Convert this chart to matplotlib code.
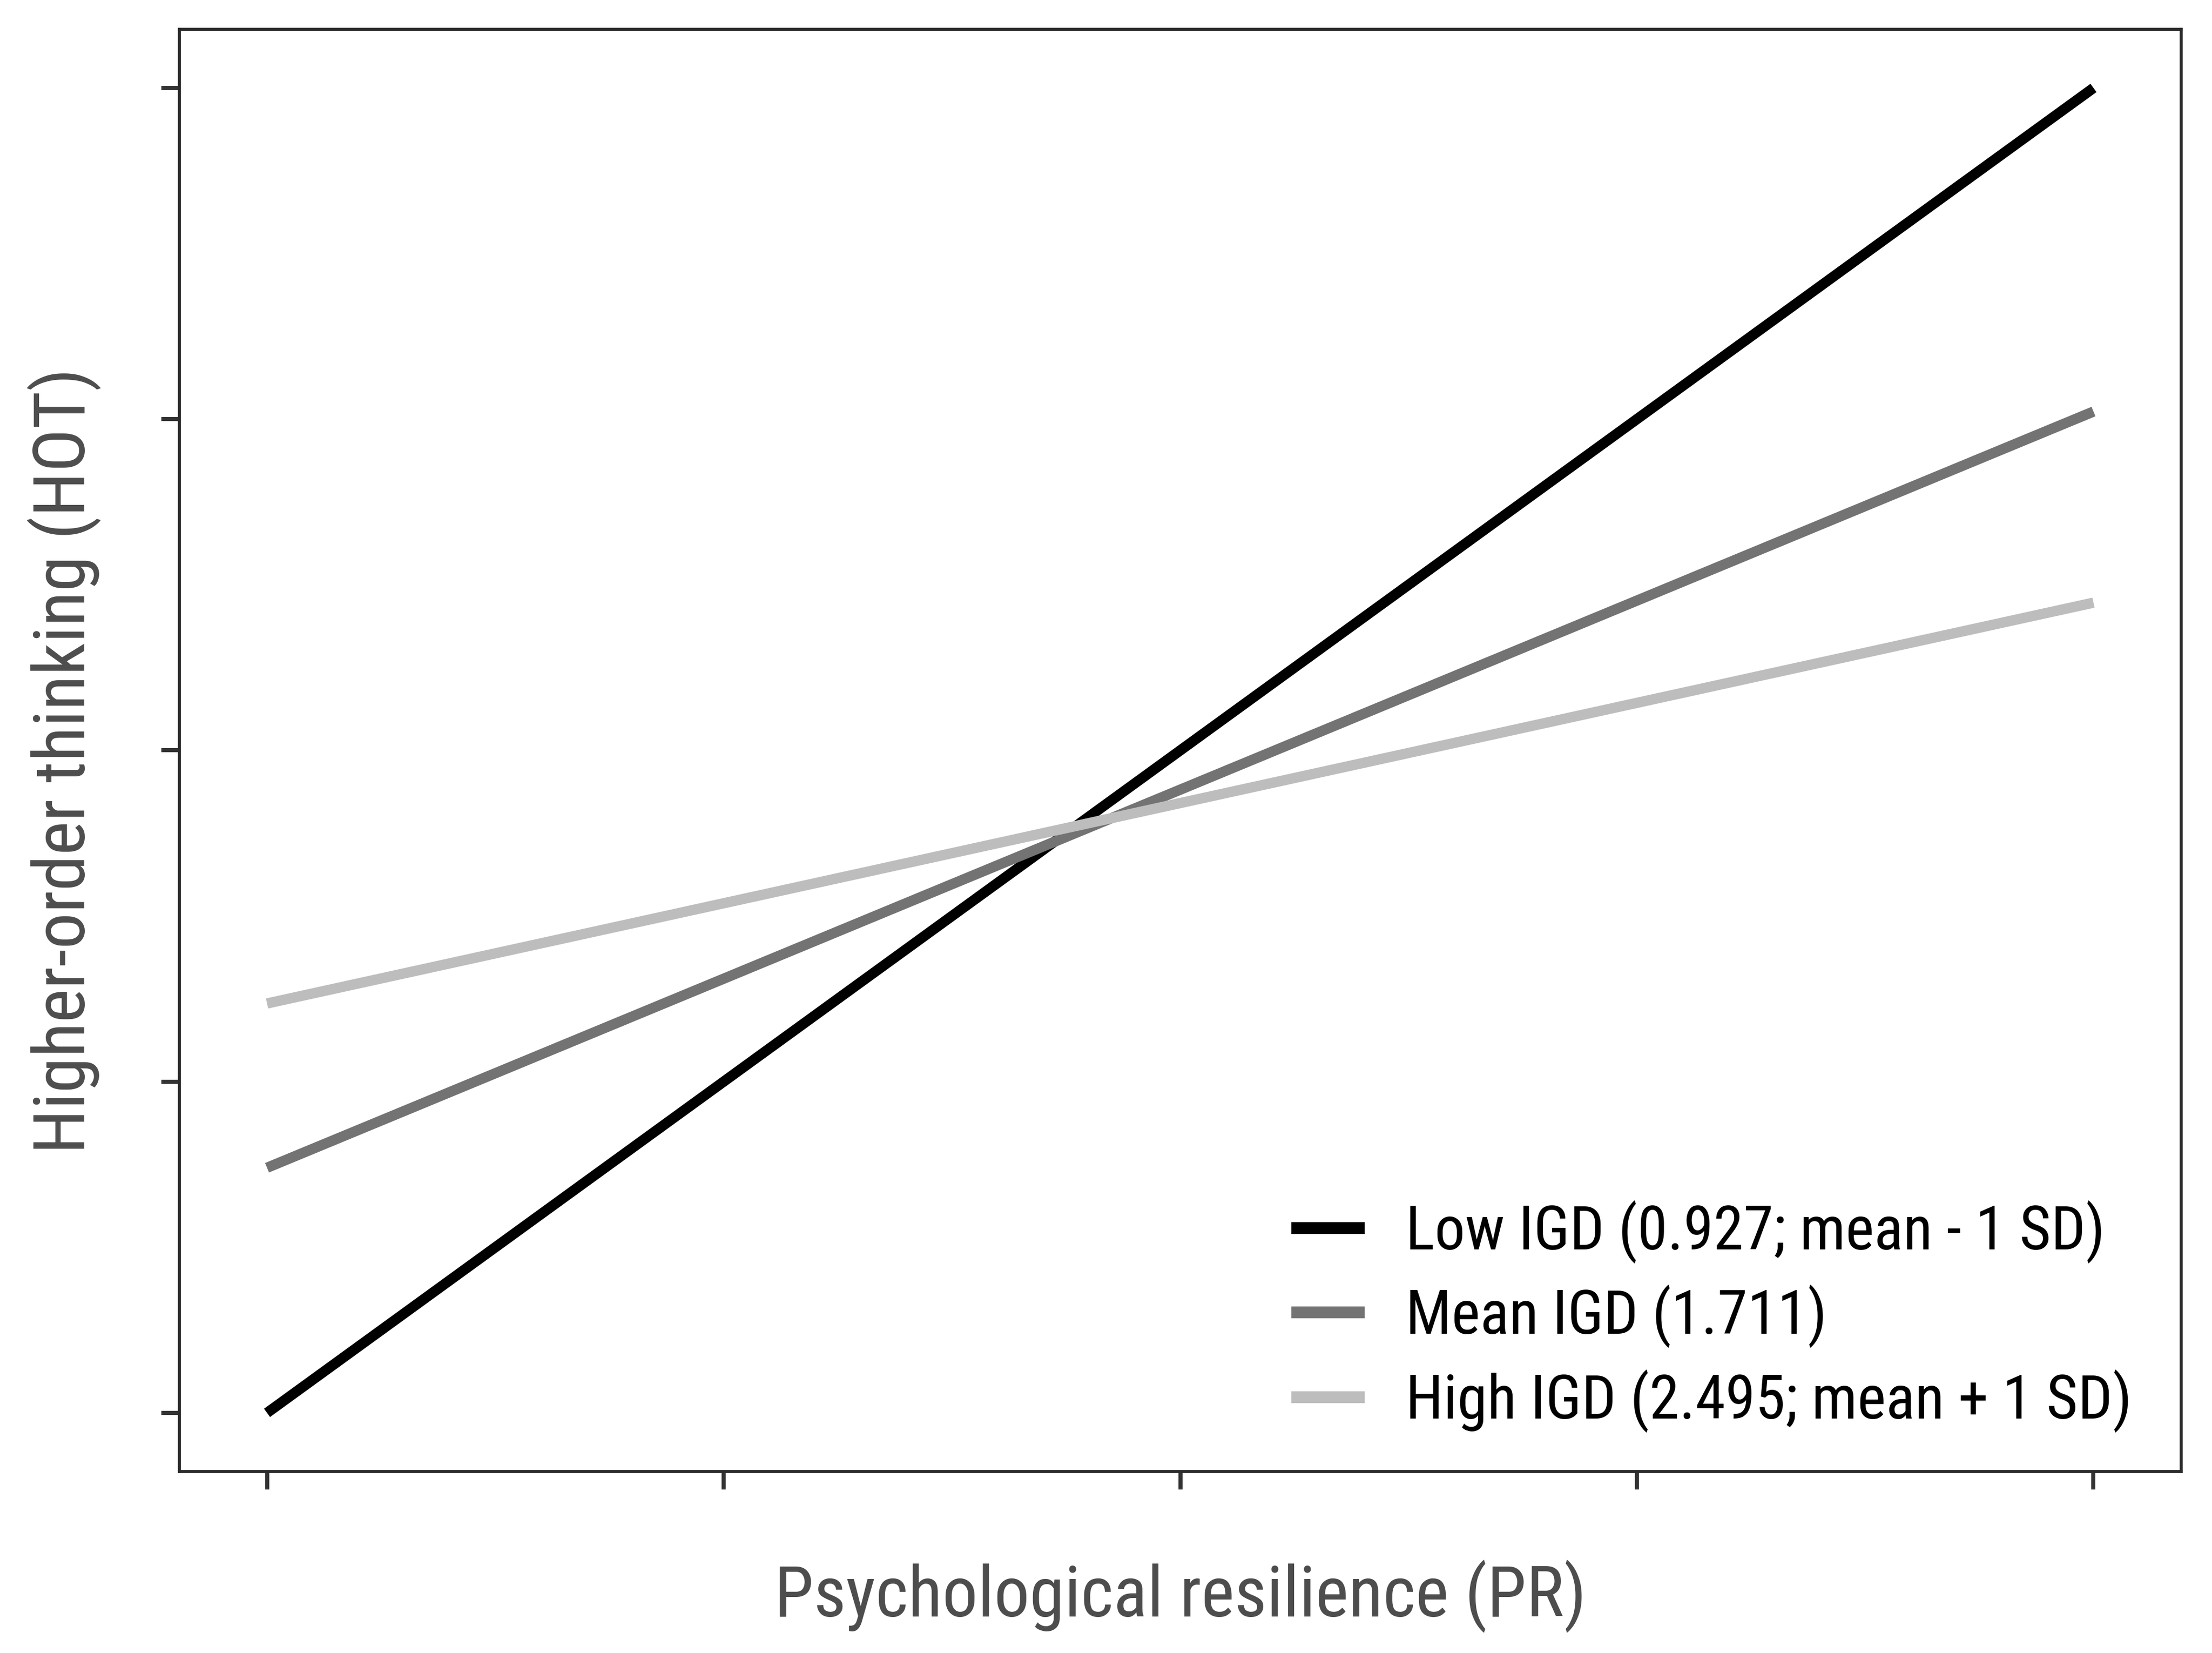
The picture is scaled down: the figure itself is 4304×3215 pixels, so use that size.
import os
import numpy as np
import matplotlib.pyplot as plt
from matplotlib import font_manager
from matplotlib.font_manager import FontProperties

# simple slopes: HOT predicted from PR at three IGD levels
pr = [-1, 1]
low_igd = [1.0, 5.0]
mean_igd = [1.74, 4.023]
high_igd = [2.236, 3.446]

labels = ["Low IGD (0.927; mean - 1 SD)",
          "Mean IGD (1.711)",
          "High IGD (2.495; mean + 1 SD)"]
colors = ["#000000", "#737373", "#bdbdbd"]

xticks = [-1, -0.5, 0, 0.5, 1]
yticks = [1, 2, 3, 4, 5]


def narrow_font():
    # the reference uses a narrow Helvetica-like face; take the closest one installed
    pats = ["LiberationSansNarrow-Regular", "ArialNarrow.", "NotoSans-Condensed.",
            "NotoSans-CondensedRegular", "RobotoCondensed-Regular",
            "NotoSans-SemiCondensed.", "LiberationSans-Regular"]
    names = [(os.path.basename(f.fname), f.fname) for f in font_manager.fontManager.ttflist]
    for p in pats:
        for b, path in names:
            if b.startswith(p):
                return path
    return font_manager.findfont("Liberation Sans")


fpath = narrow_font()

W, H, DPI = 4304, 3215, 300
fig = plt.figure(figsize=(W/DPI, H/DPI), dpi=DPI)
ax = fig.add_axes([349/W, 1 - 2862/H, (4244-349)/W, (2862-57)/H])

for ys, c, lab in zip([low_igd, mean_igd, high_igd], colors, labels):
    ax.plot(pr, ys, color=c, lw=4.8, solid_capstyle='butt', label=lab)

ax.set_xlim(-1.096, 1.096)
ax.set_ylim(0.823, 5.177)
ax.set_xticks(xticks)
ax.set_yticks(yticks)
ax.set_xticklabels([])
ax.set_yticklabels([])
ax.tick_params(length=8.4, width=1.9, color="#333333")
for s in ax.spines.values():
    s.set_linewidth(1.4)
    s.set_color("#2b2b2b")

renderer = fig.canvas.get_renderer()


def fit_size(txt, target, start):
    t = fig.text(0, 0, txt, fontproperties=FontProperties(fname=fpath, size=start))
    w = t.get_window_extent(renderer).width
    t.remove()
    return start * target / w


xl_fs = fit_size("Psychological resilience (PR)", 1580, 36)
yl_fs = fit_size("Higher-order thinking (HOT)", 1529, 36)
lg_fs = fit_size(labels[0], 1362, 30)

ax.set_xlabel("Psychological resilience (PR)", color="#4d4d4d",
              fontproperties=FontProperties(fname=fpath, size=xl_fs))
ax.set_ylabel("Higher-order thinking (HOT)", color="#4d4d4d",
              fontproperties=FontProperties(fname=fpath, size=yl_fs))
ax.xaxis.label.set_va("baseline")
ax.yaxis.label.set_va("baseline")
ax.xaxis.set_label_coords(0.5, (2862 - 3143) / 2805)
ax.yaxis.set_label_coords((165 - 349) / 3895, (2862 - 1480) / 2805)

fs_px = lg_fs * DPI / 72
tmp = fig.text(0, 0, labels[0], fontproperties=FontProperties(fname=fpath, size=lg_fs))
th = tmp.get_window_extent(renderer).height
tmp.remove()
spacing = (164.5 - th) / fs_px

leg = ax.legend(loc="upper left", bbox_to_anchor=(2512 / W, 1 - 2330 / H),
                bbox_transform=fig.transFigure, frameon=False,
                prop=FontProperties(fname=fpath, size=lg_fs),
                handlelength=143 / fs_px, handletextpad=80 / fs_px,
                labelspacing=spacing, borderpad=0, borderaxespad=0)
for t in leg.get_texts():
    t.set_color("#000000")
for h in leg.legend_handles:
    h.set_linewidth(5.5)

# nudge the legend so the first key sits where the reference has it
fig.canvas.draw()
hb = leg.legend_handles[0].get_window_extent(renderer)
dx = 2512 - hb.x0
dy = (H - 2388) - (hb.y0 + hb.y1) / 2
leg.set_bbox_to_anchor(((2512 + dx) / W, (H - 2330 + dy) / H), transform=fig.transFigure)

fig.savefig("out.png", dpi=DPI)
